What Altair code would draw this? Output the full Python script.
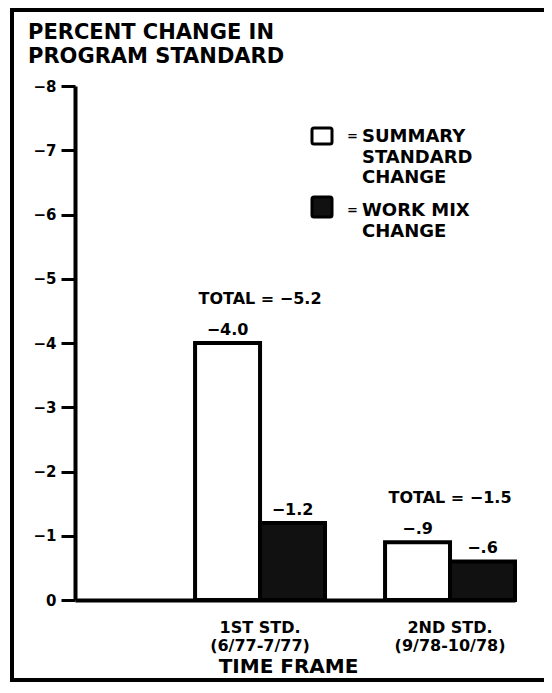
import altair as alt
import pandas as pd

# ---------------- data ----------------
groups = ["1ST STD.|(6/77-7/77)", "2ND STD.|(9/78-10/78)"]
series = ["SUMMARY STANDARD CHANGE", "WORK MIX CHANGE"]
summary_values = [-4.0, -0.9]
work_mix_values = [-1.2, -0.6]
summary_labels = ["\u22124.0", "\u2212.9"]
work_mix_labels = ["\u22121.2", "\u2212.6"]
total_values = [-5.2, -1.5]
total_labels = ["TOTAL = \u22125.2", "TOTAL = \u22121.5"]
y_ticks = [0, -1, -2, -3, -4, -5, -6, -7, -8]
legend_lines = ["SUMMARY\nSTANDARD\nCHANGE", "WORK MIX\nCHANGE"]
series_colors = ["white", "#111111"]
title_text = "PERCENT CHANGE IN\nPROGRAM STANDARD"
x_title = "TIME FRAME"

FONT = "DejaVu Sans"

rows = []
for g, sv, wv, sl, wl in zip(groups, summary_values, work_mix_values, summary_labels, work_mix_labels):
    rows.append({"group": g, "series": series[0], "value": sv, "label": sl})
    rows.append({"group": g, "series": series[1], "value": wv, "label": wl})
bars_df = pd.DataFrame(rows)

totals_df = pd.DataFrame({"group": groups, "value": summary_values, "label": total_labels, "total": total_values})

X = alt.X(
    "group:N",
    sort=groups,
    scale=alt.Scale(domain=groups, paddingInner=0.316, paddingOuter=0.316, align=1),
    axis=alt.Axis(
        title=x_title,
        labelExpr="split(datum.label, '|')",
        labelAngle=0,
        ticks=False,
        domainWidth=4,
        domainColor="black",
        labelFont=FONT,
        labelFontSize=16,
        labelFontWeight="bold",
        labelColor="black",
        labelPadding=19,
        labelLineHeight=18,
        labelBaseline="top",
        titleFont=FONT,
        titleFontSize=20,
        titleFontWeight="bold",
        titleColor="black",
        titleX=213,
        titleY=72,
        titleBaseline="alphabetic",
        titleAlign="center",
        grid=False,
    ),
)
XOFF = alt.XOffset("series:N", sort=series, scale=alt.Scale(domain=series, paddingInner=0, paddingOuter=0))
Y = alt.Y(
    "value:Q",
    scale=alt.Scale(domain=[0, -8], nice=False, zero=False),
    axis=alt.Axis(
        values=y_ticks,
        labelExpr="datum.value == 0 ? '0' : '\u2212' + abs(datum.value)",
        tickSize=14,
        tickWidth=3,
        tickColor="black",
        domainWidth=4,
        domainColor="black",
        labelFont=FONT,
        labelFontSize=15,
        labelFontWeight="bold",
        labelColor="black",
        labelPadding=5,
        title=None,
        grid=False,
    ),
)

bars = alt.Chart(bars_df).mark_bar(stroke="black", strokeWidth=4, strokeJoin="miter").encode(
    x=X,
    xOffset=XOFF,
    y=Y,
    fill=alt.Fill("series:N", scale=alt.Scale(domain=series, range=series_colors), legend=None),
)

value_text = alt.Chart(bars_df).mark_text(
    dy=-13, baseline="middle", font=FONT, fontSize=16, fontWeight="bold", color="black"
).encode(x=X, xOffset=XOFF, y=Y, text="label:N")

total_text = alt.Chart(totals_df).mark_text(
    dy=-44, baseline="middle", font=FONT, fontSize=16, fontWeight="bold", color="black"
).encode(x=X, y=Y, text="label:N")

one = pd.DataFrame({"k": [0]})

title_layer = alt.Chart(pd.DataFrame({"t": [title_text]})).mark_text(
    align="left", baseline="alphabetic", lineBreak="\n", lineHeight=24,
    font=FONT, fontSize=21, fontWeight="bold", color="black"
).encode(x=alt.value(-47), y=alt.value(-47), text="t:N")

# frame: left, top and bottom edges (right edge runs off the picture)
frame_left = alt.Chart(one).mark_rule(stroke="black", strokeWidth=4).encode(
    x=alt.value(-63), y=alt.value(-76), y2=alt.value(594)
)
frame_top = alt.Chart(one).mark_rule(stroke="black", strokeWidth=4).encode(
    x=alt.value(-65), x2=alt.value(500), y=alt.value(-76)
)
frame_bottom = alt.Chart(one).mark_rule(stroke="black", strokeWidth=4).encode(
    x=alt.value(-65), x2=alt.value(500), y=alt.value(594)
)

# legend (manual swatches + labels)
leg_sq1 = alt.Chart(one).mark_rect(fill=series_colors[0], stroke="black", strokeWidth=3, cornerRadius=2).encode(
    x=alt.value(237), x2=alt.value(257), y=alt.value(42), y2=alt.value(58)
)
leg_sq2 = alt.Chart(one).mark_rect(fill=series_colors[1], stroke="black", strokeWidth=3, cornerRadius=2).encode(
    x=alt.value(237), x2=alt.value(257), y=alt.value(111), y2=alt.value(131)
)
leg_df1 = pd.DataFrame({"t": [legend_lines[0]]})
leg_df2 = pd.DataFrame({"t": [legend_lines[1]]})
eq_style = dict(align="left", baseline="alphabetic", font=FONT, fontSize=13, fontWeight="bold", color="black")
lab_style = dict(align="left", baseline="alphabetic", lineBreak="\n", lineHeight=20.5,
                 font=FONT, fontSize=18, fontWeight="bold", color="black")
leg_eq1 = alt.Chart(one).mark_text(text="=", **eq_style).encode(x=alt.value(272), y=alt.value(54))
leg_eq2 = alt.Chart(one).mark_text(text="=", **eq_style).encode(x=alt.value(272), y=alt.value(128))
leg_t1 = alt.Chart(leg_df1).mark_text(**lab_style).encode(x=alt.value(287), y=alt.value(56), text="t:N")
leg_t2 = alt.Chart(leg_df2).mark_text(**lab_style).encode(x=alt.value(287), y=alt.value(130), text="t:N")

chart = alt.layer(
    bars, value_text, total_text, title_layer, frame_left, frame_top, frame_bottom,
    leg_sq1, leg_sq2, leg_eq1, leg_eq2, leg_t1, leg_t2
).properties(
    width=440,
    height=514,
    autosize=alt.AutoSizeParams(type="none"),
    padding={"left": 67, "top": 78, "right": 29, "bottom": 82},
    background="white",
).configure_view(stroke=None)

chart.save("out.html", embed_options={"renderer": "svg", "actions": False})
